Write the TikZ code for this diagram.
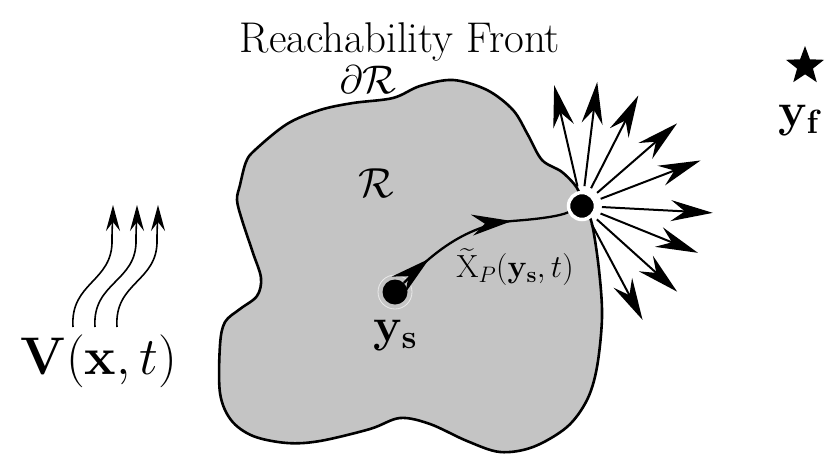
\RequirePackage{fix-cm}
\documentclass[tikz,border=0pt]{standalone}
\usepackage{amsmath}
\usetikzlibrary{arrows.meta,shapes.geometric,decorations.markings,calc}
\definecolor{regiongray}{gray}{0.77}
\begin{document}
\begin{tikzpicture}[x=1pt,y=-1pt,
  outline/.style={fill=regiongray,draw=black,line width=2.6pt,line join=round},
  dot/.style={circle,fill=black,inner sep=0pt},
  ray/.style={line width=2pt,-{Stealth[length=42pt,width=21pt,inset=14pt]}},
  wind/.style={line width=1.6pt,-{Stealth[length=26pt,width=14pt,inset=9pt]}},
  traj/.style={line width=2.3pt,postaction={decorate},decoration={markings,
     mark=at position 0.19 with {\arrow{Stealth[length=40pt,width=21pt,inset=13pt]}},
     mark=at position 0.69 with {\arrow{Stealth[length=40pt,width=21pt,inset=13pt]}}}},
  lbl/.style={inner sep=0pt}]
\useasboundingbox (0,0) rectangle (832,455);
% reachable region
\draw[outline] plot[smooth cycle, tension=0.55] coordinates {
 (393,98) (420,86) (453,80) (487,90) (513,110) (528,135) (542,160) (562,172)
 (577,188) (584,206) (592,224) (599,270) (602,317) (597,367) (587,400) (567,427)
 (533,447) (500,452) (467,441) (430,424) (400,418) (370,429) (320,441) (287,443)
 (253,436) (231,420) (220,393) (220,345) (225,322) (240,309) (257,296) (261,278)
 (253,253) (242,220) (237,200) (240,185) (246,162) (255,150) (287,124) (320,110)
 (353,103)};
% start point
\draw[black!8,line width=0.8pt] (395,292) circle (17);
\node[dot,minimum size=25pt] (ys) at (395,292) {};
% front point
\node[dot,draw=white,line width=3.5pt,minimum size=27pt] (front) at (582,206) {};
% trajectory
\draw[traj] (ys) .. controls (428,258) and (462,226) .. (512,221)
  .. controls (540,219) and (560,216) .. (front);
% radiating arrows
\foreach \a/\r in {103/124,83/125,63/124,41/126,21/127,-3/131,-22/125,-42/128,-62/129}{
  \draw[ray] ($(front.center)+(-\a:20)$) -- ($(front.center)+(-\a:\r)$);
}
% wind
\coordinate (w1s) at (73,327); \coordinate (w1e) at (113,205);
\coordinate (w2s) at (95,327); \coordinate (w2e) at (137,205);
\coordinate (w3s) at (117,327); \coordinate (w3e) at (158,205);
\draw[wind] (w1s) .. controls (70,282) and (113,282) .. (112,240) .. controls (112,225) and (113,215) .. (w1e);
\draw[wind] (w2s) .. controls (92,282) and (137,282) .. (136,240) .. controls (136,225) and (137,215) .. (w2e);
\draw[wind] (w3s) .. controls (114,282) and (158,282) .. (157,240) .. controls (157,225) and (158,215) .. (w3e);
% target
\node[star,star points=5,star point ratio=2.4,fill=black,minimum size=40pt,inner sep=0pt] (yfstar) at (805,66) {};
% labels
\node[lbl,anchor=base] (title) at (400,52) {\fontsize{43}{52}\selectfont Reachability Front};
\node[lbl] (dR) at (368,80) {\fontsize{40}{48}\selectfont $\partial\mathcal{R}$};
\node[lbl] (R) at (376,183) {\fontsize{42}{50}\selectfont $\mathcal{R}$};
\node[lbl,anchor=base] (yslbl) at (395,341) {\fontsize{48}{58}\selectfont $\mathbf{y}_{\mathbf{s}}$};
\node[lbl,anchor=base] (yflbl) at (800,126) {\fontsize{48}{58}\selectfont $\mathbf{y}_{\mathbf{f}}$};
\node[lbl,anchor=base west] (Vlbl) at (20,374) {\fontsize{53}{63}\selectfont $\mathbf{V}(\mathbf{x},t)$};
\node[lbl] (Xlbl) at (515,267) {\fontsize{32}{38}\selectfont $\widetilde{\mathrm{X}}_P(\mathbf{y}_{\mathbf{s}},t)$};
\end{tikzpicture}
\end{document}
